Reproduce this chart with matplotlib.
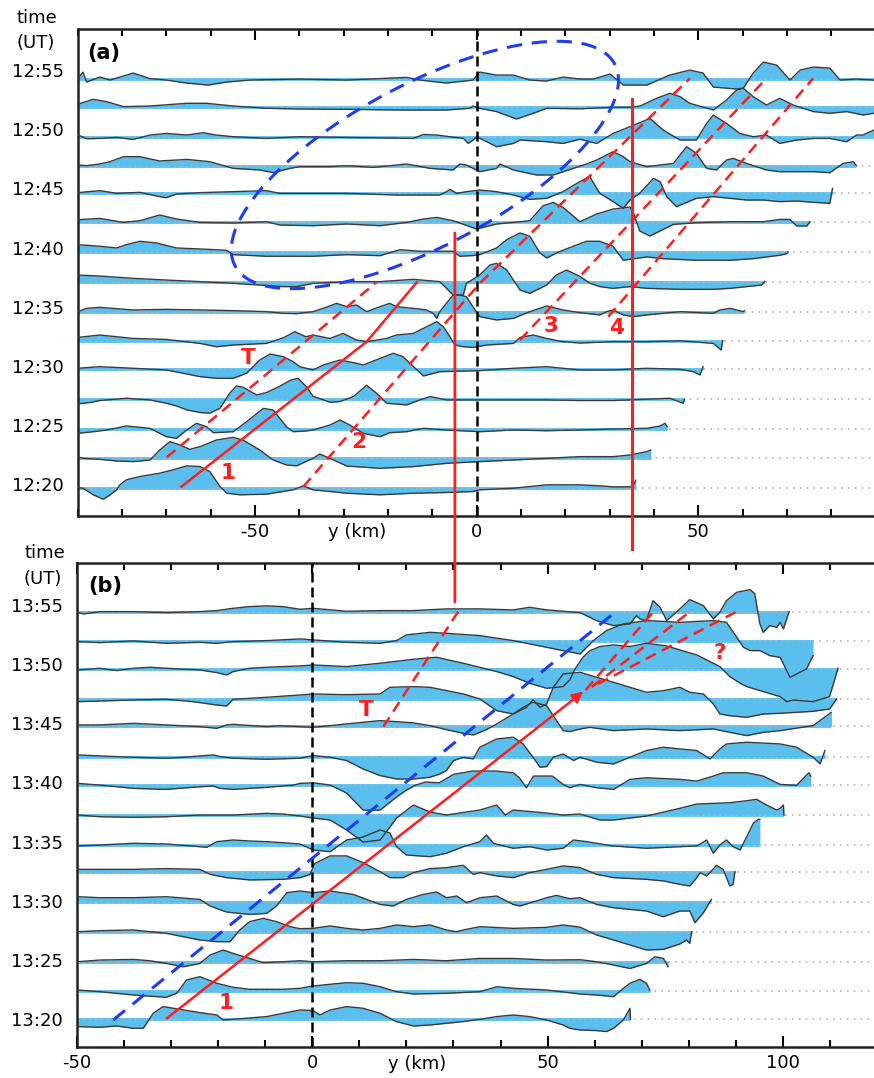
import numpy as np
import matplotlib
matplotlib.use('Agg')
import matplotlib.pyplot as plt
from matplotlib.ticker import MultipleLocator
from matplotlib.patches import ConnectionPatch
import matplotlib.transforms as mtransforms

plt.rcParams['font.family'] = ['DejaVu Sans']
plt.rcParams['axes.unicode_minus'] = False

# ---------------- data: panel (a) ----------------
# each row: (y in km, amplitude) pairs
a_1220 = [(-90,0),(-88.8,-0.7),(-86.5,-7.3),(-84.2,-11.7),(-82.7,-7.3),(-81.2,-2.3),(-80.5,2.7),(-79,7.7),(-76,11),(-71.5,14.3),(-68.5,17.7),(-65.4,21.7),(-62.4,21),(-60.2,16),(-57.9,1),(-56.4,-5.7),(-53.4,-7.3),(-47.4,-6.7),(-41.4,-2.3),(-39.1,1.7),(-36.9,-2.3),(-29.3,-5.7),(-21.8,-7.3),(-14.3,-5.7),(-6.8,-5),(-0.8,-4),(0.7,-2.3),(8.3,-0.7),(15.8,2.7),(23.3,2.7),(27.8,1.7),(30.8,0.7),(34.6,0.7),(35.3,1),(35.9,7.3)]
a_1222 = [(-90,1.7),(-88.8,0),(-85,-1),(-81.2,-2.7),(-77.5,-3.3),(-73.7,-1.7),(-71.5,8.3),(-69.2,16.7),(-66.9,13.3),(-64.7,9),(-62.4,11.7),(-58.7,18.3),(-54.9,21),(-52.7,18.3),(-48.9,8.3),(-45.9,-1.7),(-42.9,-6.7),(-40.6,-7.5),(-36.9,0),(-35.4,4.3),(-33.1,0),(-29.3,-7.7),(-21.8,-10),(-14.3,-8.3),(-6.8,-5),(0.7,-3.3),(8.3,-1.7),(15.8,0),(23.3,1.7),(30.8,1.7),(34.6,3.3),(38.4,6.7),(39.3,8.3)]
a_1225 = [(-90,-4.3),(-86.5,-2.7),(-83.5,-1),(-79,3),(-73.7,0.7),(-71.5,-4.3),(-70,-7.7),(-67.7,-9.3),(-65.4,-1),(-63.2,5.7),(-60.9,2.3),(-59.4,-3.7),(-54.9,-2.7),(-51.9,7.3),(-48.1,20.7),(-45.9,19),(-42.9,2.3),(-41.4,-2.7),(-38.5,-2),(-36.9,-1),(-33.1,4),(-30.8,9),(-28.6,4),(-25.6,-4.3),(-21.8,-7.7),(-19.6,-3.7),(-15.8,-2.7),(-12,0.7),(-6.8,-1),(0.7,-2.7),(8.3,-1),(15.8,-1.7),(23.3,-1),(30.8,0),(38.4,0.7),(41.4,3),(42.5,5.7),(43,2.3)]
a_1227 = [(-90,-4.7),(-87.3,-3.3),(-85,-1.3),(-79,1),(-73.7,-0.7),(-70,-4),(-67.7,-6.7),(-65.4,-10.7),(-62.4,-13.3),(-60.2,-14),(-57.9,-9),(-55.7,6),(-54.2,13.3),(-52.7,12),(-49.6,4.3),(-47.4,6.7),(-44.4,13),(-42,19),(-40.3,21),(-38.5,13),(-36.9,3),(-33.1,-3),(-30.8,-2.3),(-27.8,2.7),(-24.8,14),(-22.6,6),(-20.3,-4),(-15.8,-5.7),(-12.8,-0.7),(-10.5,2.7),(-6.8,-0.7),(0.7,-0.7),(15.8,-0.7),(23.3,-1.3),(30.8,-1.3),(38.4,0),(43.6,1),(46.6,-4),(46.9,0)]
a_1230 = [(-90,0.7),(-85,2.3),(-77.5,0.7),(-70,-1),(-66.2,-4.3),(-62.4,-7.7),(-58.7,-9.3),(-54.9,-9.3),(-51.9,-4.3),(-48.9,9),(-46.6,15),(-43.6,12.3),(-41.4,7.3),(-39.9,2.3),(-36.9,-1),(-34.6,4),(-30.8,9),(-27.1,5.7),(-25.6,4),(-18.8,15.7),(-16.6,12.3),(-12,-7),(-8.3,-2.7),(0.7,-1.7),(8.3,0.7),(15.8,2.3),(23.3,-1),(30.8,-1),(38.4,0.7),(45.9,-0.3),(48.9,-2.7),(50.4,-6),(51.1,2.3)]
a_1232 = [(-90,3.3),(-85,5.7),(-77.5,2.3),(-70,1.3),(-62.4,-2.7),(-58.7,-6),(-54.9,-4.3),(-47.4,-2.7),(-43.6,3),(-41,9),(-38.5,4),(-36.9,5.7),(-33.1,2.3),(-30.1,7.3),(-27.1,0.7),(-24.8,-1),(-20.3,2.3),(-18.1,5.7),(-14.3,7.3),(-11.3,14),(-9,19),(-7.5,14),(-6,4),(-4.9,-4.3),(-3,-6),(-0.8,-6.7),(2.3,-4.3),(8.3,-2.7),(9.8,3.3),(12.8,5.7),(15.8,2.3),(19.5,-1),(23.3,-2.3),(30.8,-1),(38.4,-1),(45.9,0),(53.4,-2.7),(55.2,-9.3),(55.5,0)]
a_1235 = [(-90,0),(-88,3.3),(-85,4.3),(-77.5,1.7),(-70,2.3),(-62.4,1.7),(-54.9,1),(-47.4,0),(-43.6,-1.7),(-40.6,-2),(-36.9,0),(-34.6,3.3),(-31.6,8.3),(-29.3,5),(-27.1,6.7),(-24.8,0),(-21.8,5),(-19.6,8.3),(-18.1,5),(-14.3,3.3),(-11.3,1.7),(-9.8,-1.7),(-9,-6.7),(-8.3,0),(-6.8,8.3),(-5.3,16.7),(-3.8,16.7),(-2.3,15),(-1.1,6.7),(0.7,-5),(4.5,-8.3),(8.3,-6.7),(12,0),(15.8,5.7),(19.5,1.7),(23.3,-1),(27.8,-3.3),(29.3,0),(30.8,1.7),(33.1,-3.3),(35.3,-5),(38.4,-3.3),(45.9,0),(53.4,-1.7),(54.9,1.7),(57.2,3.3),(60.2,0),(60.4,1)]
a_1237 = [(-90,7.3),(-85,6.3),(-77.5,4),(-70,2.3),(-62.4,0.7),(-54.9,-1),(-48.9,-2.7),(-43.6,-4.3),(-40.6,-4.3),(-36.9,-1),(-29.3,0.7),(-21.8,0.7),(-14.3,3),(-8.3,0.7),(-6.8,-6),(-5.3,-12.7),(-3,-12.7),(-2.3,-1),(0.7,7.3),(3,17.3),(4.5,19),(6.8,12.3),(9.8,-7.7),(12,-11),(15.8,-2.7),(18,7.3),(20.3,12.3),(23.3,6),(25.6,-1),(27.8,-4.3),(30.8,-6),(34.6,-4.3),(38.4,-6),(45.9,-7),(53.4,-7),(57.2,-6),(60.9,-4.3),(64.3,-2.7),(65,0.7)]
a_1240 = [(-90,7.3),(-85,5.7),(-81.2,4),(-79,7.3),(-76,10.7),(-72.2,9),(-67.7,4),(-62.4,3),(-56.4,1.7),(-54.9,-2.7),(-47.4,-4.3),(-39.9,-4.3),(-36.9,-4.3),(-29.3,-2.7),(-21.8,-3.7),(-17.3,2.3),(-12.8,0.7),(-9,0.7),(-5.3,0.7),(-3.8,-4.3),(-0.5,-3.5),(0.7,-2.7),(4.5,4),(6.8,12.3),(9.8,19),(12,15.7),(14.3,-1),(15.8,-6),(18.5,0),(21.8,5.7),(24.8,10.7),(27.8,10.7),(30.8,5.7),(33.1,-8.3),(38.4,-5),(42.1,-6.7),(49.6,-8.3),(57.2,-8.3),(62.4,-6.7),(68.4,-3.3),(70,-1.7),(70.3,0)]
a_1242 = [(-90,2),(-85,3.3),(-79.7,-0.7),(-76,1),(-71.5,6.7),(-67.7,2.7),(-62.4,-0.7),(-54.9,-1.3),(-47.4,0),(-44.4,-3.3),(-36.9,-4),(-29.3,-2.3),(-21.8,-4),(-15.8,-0.7),(-12,2.7),(-9,4.3),(-5.3,1),(0,-7.3),(4.5,-2.3),(8.3,-0.7),(12,1),(15,16),(17.3,19.3),(19.5,14.3),(23.3,0),(27.1,7.7),(30.8,12.7),(34.6,14.7),(35.3,10),(36.8,-9.3),(39.1,-14.3),(42.1,-7.7),(44.4,-2.7),(49.6,-1),(57.2,0),(64.7,0),(68.4,2.3),(70.7,2.3),(72.2,-4.3),(74.5,-4.3),(75.2,0)]
a_1245 = [(-90,0.7),(-85,2.7),(-81.2,0),(-76,1),(-71.5,-3.3),(-70,-4.3),(-67.7,-0.7),(-62.4,0.7),(-54.9,1.7),(-47.4,2.7),(-44.4,0),(-29.3,0),(-18.1,-1.7),(-8.3,-1.7),(-6.8,1.7),(-6,4),(-4.5,0),(-2.3,1.7),(0.7,3.3),(4.5,1.7),(8.3,-1.7),(12,-6),(15.8,-5),(19.5,1.7),(23.3,11.7),(25.5,17),(27.8,0),(30.8,-8.3),(33.1,-15),(34.6,-6.7),(36.8,0),(39.9,15),(41.4,11.7),(42.9,-3.3),(45.1,-13.3),(49.6,-5),(53.4,-3.3),(57.2,-5),(60.9,-6.7),(64.7,-6.7),(68.4,-8.3),(72.2,-7.7),(76,-9),(79.7,-10),(80.3,5)]
a_1247 = [(-90,0.7),(-88,0),(-85,1.7),(-82.7,4),(-79.7,9),(-76,9),(-71.5,4.7),(-65.4,6.3),(-60.2,4),(-54.9,-2.7),(-48.9,-4.3),(-45.9,-7),(-42.1,-2.7),(-39.9,-1),(-33.1,-1),(-29.3,0),(-23.3,-1.7),(-15.8,1.7),(-10.5,-2.7),(-5.3,-4.3),(-3.8,1.7),(-2.3,0.7),(-0.8,-2.7),(0.7,-6),(4.5,-2.7),(5.3,1.7),(8.3,-4.3),(13.5,-9.3),(17.3,-9.3),(21.8,-2.7),(25,2),(27.1,5.7),(30.8,14),(33.1,9),(34.6,4),(38.4,-1),(44.4,2.3),(47.4,19),(49.6,12.3),(51.9,-2.7),(54.1,-4.3),(56.4,5.7),(57.9,7.3),(60.9,2.3),(65.4,-4.3),(68.4,-6),(72.2,-6),(76,-6),(79.7,-7),(82.7,2.3),(85,4),(85.7,0)]
a_1250 = [(-90,2),(-88,-2),(-85,-1.7),(-81.2,-0.7),(-77.5,-2.7),(-73.7,1.7),(-70,3.3),(-65.4,1.7),(-61.7,4),(-58.7,1.7),(-54.9,0),(-47.4,-1.7),(-39.9,0),(-29.3,-0.7),(-14.3,-1.7),(-12,2.3),(-9,1.7),(-3,-1.7),(-1.9,-6.7),(-0.8,-3.3),(0,0),(2.3,-5),(4.5,-10),(8.3,-6.7),(9.8,-3.3),(15.8,-5),(19.5,-6.7),(23.3,-2.5),(27.1,-6.7),(30.8,3.3),(34.6,10),(39.1,18.3),(42.1,6.7),(45.9,-3.3),(49.6,-3.3),(51.9,13.3),(53.4,21.7),(56.4,13.3),(59.4,3.3),(62.4,0),(65.4,1.7),(68.4,-6.7),(72.2,-3.3),(76,-1.7),(79.7,-1.7),(83.5,-5),(85.7,1.7),(87.2,1.7),(89.6,6.7)]
a_1252 = [(-90,3),(-86.5,8),(-83.5,5.7),(-79.7,0.7),(-73.7,1.3),(-65.4,4),(-60.9,4),(-54.9,1.3),(-47.4,-1),(-39.9,-1.7),(-29.3,-2),(-18.1,-2.7),(-6.8,-2.7),(-1.5,-1),(-0.8,1.3),(0.7,-1),(4.5,-4.3),(9,-11.7),(12.8,-6),(15.8,-1),(23.3,-1.5),(30.8,0),(34.6,0),(36.9,1.3),(40.6,9),(43.6,14),(45.9,10.7),(48.1,4),(53.4,-2.7),(56.4,7.3),(58.7,17.3),(60.2,19),(62.4,10.7),(65.4,2.3),(68.4,9),(71.4,2.3),(76,-4.3),(79.7,-6),(83.5,-4.3),(87.2,-7.7),(89.6,-6)]
a_1255 = [(-90,0),(-88.8,7),(-88,-3),(-85,2),(-82.7,-1),(-77.5,6),(-73.7,0.5),(-70,-1),(-65.4,-4),(-60.6,-6),(-56.4,-3),(-51.2,-1),(-40,0),(-29.3,-1),(-15.8,1.7),(-12.8,-1),(-6.8,-4),(-0.8,-1),(0.7,7),(4.5,4),(8.3,4),(12,-1),(15.8,-2),(19.5,2),(23.3,0),(26.3,0),(30.1,5),(33.1,-6),(38.4,-6),(43.6,4),(48.1,9),(51.1,6),(53.4,-8),(58.7,-10),(60.2,-9),(62.4,6),(64.7,17),(67.7,14),(70.7,-1),(73,9),(76,12),(79.7,11),(82,-1),(85.7,0),(89.6,-1)]
a_rows = [a_1220, a_1222, a_1225, a_1227, a_1230, a_1232, a_1235, a_1237,
          a_1240, a_1242, a_1245, a_1247, a_1250, a_1252, a_1255]
a_times = [19.7, 22.17, 24.65, 27.17, 29.73, 32.12, 34.58, 37.06,
           39.63, 42.19, 44.59, 46.93, 49.38, 51.87, 54.26]   # minutes after 12:00
a_ticks = [20, 25, 30, 35, 40, 45, 50, 55]
a_labels = ['12:20', '12:25', '12:30', '12:35', '12:40', '12:45', '12:50', '12:55']

# ---------------- data: panel (b) ----------------
b_1320 = [(-49.85,-7.3),(-45.1,-8),(-41.6,-6.7),(-38,-9),(-35.9,-9),(-33.8,6),(-31.7,12.7),(-29.5,11),(-23.9,6.7),(-20.3,4.3),(-18.9,-0.7),(-16.8,0),(-9.7,2.7),(-2.6,9.3),(0.2,8.7),(1.6,4.3),(3.8,9.3),(7.3,12.7),(10.8,11),(14.4,6),(17.9,-2.3),(21.5,-6.7),(25,-5.7),(28.5,-4),(32.1,-2.3),(35.6,0),(39.2,2.7),(42.7,4.3),(46.2,2.7),(49.8,-0.7),(53.3,-5.7),(54.7,-9),(56.9,-10.7),(60.4,-11.3),(62.5,-12.3),(64,-9),(66.1,-0.7),(67.5,11),(67.6,0)]
b_1322 = [(-49.85,1),(-45.1,-0.7),(-38,-4),(-31,-6.3),(-28.8,-2.3),(-26.7,11),(-23.9,14.3),(-20.3,7.7),(-16.8,3.7),(-13.3,1.7),(-6.2,1.7),(-2.6,2.7),(0.2,5),(3.8,6.7),(7.3,8.3),(10.8,7.7),(14.4,4.3),(17.9,-0.7),(21.5,-3),(28.5,-2.3),(35.6,-0.7),(39.2,4.3),(42.7,2.7),(49.8,1),(56.9,-3),(60.4,-4),(64,-5.7),(66.1,2.7),(67.5,7.7),(69.6,11.7),(71,7.7),(71.7,1)]
b_1325 = [(-49.85,0),(-45.1,1.7),(-38,2.3),(-34.5,1),(-31,-1.7),(-27.4,-5),(-23.9,-1.7),(-21.7,6.7),(-18.9,11.7),(-16.8,8.3),(-13.3,3.3),(-10.4,-1),(-6.2,0),(-2.6,1),(0.2,0),(7.3,1),(14.4,1),(21.5,2.3),(28.5,1),(35.6,3.3),(42.7,3.3),(49.8,1.7),(56.9,2),(60.4,0),(64,-3.3),(67.5,-6.7),(71,-1.7),(72.8,5),(74.6,3.3),(75.6,-5)]
b_1327 = [(-49.85,0),(-45.1,1),(-38,1.7),(-31,-1.7),(-27.4,-5),(-23.9,-8.3),(-20.3,-10),(-17.5,-10),(-15.4,1.7),(-13.3,10),(-10.4,13.3),(-7.6,10),(-4.7,5),(-2.6,3),(0.2,3.3),(3.8,5.7),(7.3,3.3),(10.8,1.7),(14.4,3.3),(17.9,6.7),(21.5,5),(25,6.7),(28.5,1.7),(30.6,0),(32.1,1.7),(35.6,5),(42.7,3.3),(49.8,4.3),(53.3,6.7),(56.9,4.5),(60.4,-3.3),(64,-8.3),(67.5,-13.3),(71,-18.3),(74.6,-17.7),(78.1,-12.3),(79.5,-8.3),(80.2,-11.7),(80.6,0)]
b_1330 = [(-49.85,5),(-45.1,4),(-38,4),(-31,5),(-23.9,2.3),(-21.7,-4.3),(-18.2,-10.3),(-13.3,-12.7),(-9.7,-11.7),(-7.6,-4.3),(-5.4,9),(-2.6,10.7),(0.2,9),(3.8,10.7),(8.7,7.3),(14.4,-2.7),(17.2,-4.3),(20,2.3),(23.6,7.3),(26.4,9.7),(28.5,4),(30.7,5.7),(32.8,-1),(35.6,4),(39.2,5.7),(42.7,-2.7),(44.1,-4.3),(49.8,4),(51.9,6.3),(54.7,3),(56.9,4),(60.4,-2.7),(64,-6),(71,-9.3),(74.6,-15),(78.1,-9.3),(80.2,-9.3),(81.3,-21),(83.1,-11),(84.8,2.3)]
b_1332 = [(-49.85,2.3),(-45.1,2.3),(-38,2.3),(-31,3),(-23.9,2.3),(-21.7,-2.7),(-18.2,-6),(-13.3,-8.3),(-6.2,-7.7),(-2.6,-6),(-0.5,-3),(0.5,8),(3.8,15.7),(7.3,15.7),(10.8,9),(14.4,0),(16.5,-6),(19.3,-6),(21.5,-1),(25,3),(28.5,4),(32.1,6.3),(34.2,-2.7),(35.6,-1),(39.2,-4.3),(42.7,-6),(46.2,-1),(49.8,2.3),(53.3,5.7),(56.9,4),(60.4,-2.7),(64,-6),(71,-7.7),(74.6,-9.3),(78.1,-12.7),(80.2,-14.3),(81.7,-6),(82.4,-1),(83.8,-4.3),(85.9,6.3),(87.3,2.3),(88.7,-14.3),(89.4,-12.7),(89.8,0)]
b_1335 = [(-49.85,-1),(-45.1,0),(-38,1.7),(-31,1),(-23.9,-1.7),(-22.4,-2.3),(-20.3,3.3),(-16.8,5),(-13.3,4),(-9.7,3.3),(-6.2,2.3),(-2.6,1),(0.2,-5),(3.8,-6.7),(7.3,5),(10.8,8),(14.4,15),(16.5,12),(17.9,-1.7),(20,-10),(25,-11.7),(28.5,-8.3),(32.1,-1.7),(35.6,3.3),(37,10),(38.5,1.7),(42.7,-3.3),(46.2,-1.7),(49.8,-5),(53.3,-3.3),(55.5,5),(58.3,3.3),(60.4,1.7),(64,-1),(71,-3.3),(78.1,-1.7),(81.7,-1),(83.8,5),(85.2,-8.3),(86.6,0),(88,5),(89.4,-1.7),(90.9,-5),(92.3,8.3),(93.7,21.7),(94.8,25.7),(95.1,25.7)]
b_1337 = [(-49.85,0),(-45.1,-1.7),(-38,-2.3),(-31,-1.7),(-23.9,0),(-16.8,0),(-9.7,1.7),(-6.2,1),(-2.6,-1),(0.2,-3),(3.8,-5),(7.3,-15),(10.8,-27),(14.4,-25),(16.5,-12),(17.9,-3),(21.5,10),(25,3),(28.5,0),(35.6,5),(39.2,10),(41,0),(42.7,5),(49.8,2),(53.3,0),(56.9,1),(61.1,-5),(64,-5),(71,-1),(78.1,6.7),(81.7,11),(88.7,12.3),(92.3,14.3),(94.4,15.7),(96.5,10),(98.7,5),(99.4,6.7),(100.1,10),(100.2,0)]
b_1340 = [(-49.85,1.7),(-45.1,0),(-38,-3.3),(-31,-4.3),(-23.9,-1.7),(-21,-1),(-19.6,-3.3),(-16.8,-4.3),(-9.7,-2.3),(-4,0),(-2.6,1.7),(0.2,2.3),(3.8,0),(7.3,-8),(10.8,-25),(14.4,-25),(17.9,-12),(20,-5),(22,0),(24,3),(27,2.3),(30,10.7),(34,14),(39,14),(42.7,12.3),(44,7.3),(45.5,-2.7),(47,9),(51,9),(53.3,0.7),(54.7,-2.7),(56.9,0.7),(60.4,-2.7),(64,-4.3),(67.5,5.7),(71,7.3),(78.1,5.7),(81.7,4),(85.2,9),(87.3,12.3),(92.3,12.3),(95.8,9),(99.4,0.7),(102.9,-0.3),(105.5,12.3),(105.9,9)]
b_1342 = [(-49.85,2.3),(-45.1,1.3),(-38,0),(-31,-1),(-27.4,0),(-23.9,1.3),(-21,2.3),(-19.6,0.7),(-16.8,-1),(-9.7,-2),(-2.6,-1),(0.2,1.7),(3.8,0),(7.3,-3.3),(10.8,-11.7),(14.4,-18.3),(17.9,-21.7),(21.5,-21.7),(25,-20),(27.1,-16.7),(28.5,-13.3),(30,-3.3),(32.1,0),(34.2,-1.7),(35.6,10),(39.2,18.3),(42.7,20),(44.8,13.3),(46.9,0),(48.4,-10),(49.8,-9.3),(51.2,0),(53.3,3.3),(55.5,-3.3),(56.9,0),(60.4,-5),(64,-6.7),(67.5,0),(71,6.7),(74.6,10),(78.1,8.3),(81.7,6.7),(84.5,-1.7),(86.6,8.3),(88,13.3),(92.3,15),(99.4,13.3),(102.9,10),(106.4,0),(107.9,-6.7),(108.9,6.7)]
b_1345 = [(-49.85,0.7),(-45.1,0.7),(-38,2.3),(-31,0.7),(-23.9,-1),(-20.3,-2.7),(-18.2,0.7),(-16.8,1.3),(-9.7,-1),(-6.9,0),(0.2,-1.7),(7.3,1.7),(14.4,5),(17.9,4),(21.5,2.7),(25,0),(28.5,-4),(32.1,-7.7),(34.2,-9.3),(37,-4),(39.2,1.7),(42.7,11.7),(44.8,18.3),(46.9,23.3),(49.8,20),(51.9,5),(53.3,-5),(54.7,-6),(56.9,-3.3),(59,-1.7),(64,-5),(71,-3.3),(78.1,-5),(85.2,-3.3),(88.7,-6.7),(92.3,-10),(95.8,-6.7),(99.4,-5),(106.4,0),(109.3,10),(110.3,13.3)]
b_1347 = [(-49.85,-2.7),(-45.1,-2),(-38,-1),(-31,-0.3),(-25.3,-2.7),(-20.3,-6),(-18.2,-7),(-16.8,-0.3),(-9.7,1.7),(-2.6,4),(0.2,5),(7.3,4.3),(14.4,5),(16.5,11.7),(21.5,12.3),(25,11.7),(32.1,5),(35.6,0),(39.2,-11.7),(42.7,-15),(45.5,-8.3),(46.9,-1),(48.4,-8.3),(49.8,-5),(51.2,11.7),(53.3,25),(56.9,26.7),(60.4,21.7),(64,16.7),(67.5,11.7),(71,6.7),(74.6,8.3),(78.1,11.7),(80.2,6.7),(83.1,5),(85.2,-5),(86.6,-15),(88.7,-16.7),(92.3,-18.3),(95.8,-15),(99.4,-14.3),(106.4,-12.3),(109.9,-10),(111.4,0)]
b_1350 = [(-49.85,-0.7),(-45.1,1),(-41.6,-1.3),(-38,1),(-34.5,2),(-31,1),(-23.9,-0.7),(-20.3,-3.3),(-18.2,-5.7),(-16.8,-2.3),(-13.3,1),(-9.7,2),(-6.2,2.7),(-2.6,3.3),(0.2,4.3),(7.3,2.7),(14.4,6),(21.5,10),(26.4,12),(32.1,6),(39.2,-2.3),(42.7,-7.3),(46.2,-14),(49.8,-19),(53.3,-17.3),(54.7,-10.7),(55.8,0),(57.5,12),(59,18.5),(61.1,22.7),(64,24.3),(67.5,22.7),(71,26),(75.3,23.3),(78.1,19.3),(81.7,14.3),(83.8,9.3),(86.6,2.7),(88.7,-7.3),(90.9,-14),(92.3,-17.3),(95.8,-22.3),(99.4,-27.3),(100.8,-32.3),(102.2,-30.7),(106.4,-32.3),(109.9,-27.3),(111.7,1)]
b_1352 = [(-49.85,-1),(-45.1,-2),(-38,-0.3),(-31,-2.7),(-23.9,-1.7),(-20.3,-2.7),(-16.8,-1),(-9.7,0),(-2.6,1.7),(0.2,0.7),(7.3,-1.7),(14.4,-2.7),(17.9,0),(20,5.7),(25,8.3),(28.5,7.3),(35.6,5),(42.7,0),(49.8,-6.7),(56.9,-13.3),(59.7,0),(62.5,10),(66.1,16.7),(71,20),(78.1,18.3),(85.2,20),(88,18.3),(90.2,3.3),(91.6,-6.7),(93,-10),(95.1,-10),(97.2,-15),(99.4,-16.7),(100.8,-30),(101.5,-36.7),(102.9,-33.3),(105,-28.3),(106.4,-15)]
b_1355 = [(-49.85,-1),(-48.6,-2.3),(-45.1,0),(-38,0),(-31,-1),(-23.9,0),(-20.3,1),(-16.8,3.3),(-13.3,5),(-9.7,5.7),(-6.2,5),(-2.6,2.3),(0.2,3.3),(7.3,0.3),(14.4,1),(21.5,1),(28.5,2.7),(35.6,2.7),(42.7,1.7),(46.2,4.3),(49.8,1.7),(56.9,-1),(60.4,-9),(64,-14),(67.5,-12.3),(68.9,-4),(69.6,-7.3),(71,-9),(72.4,11),(73.9,4.3),(75.3,-9),(78.1,2.7),(80.2,12),(83.1,6),(85.2,-7.3),(86.6,-0.7),(88,11),(90.2,19.3),(93,22),(94,18),(95.1,-12.3),(95.8,-20.7),(97.2,-14),(98.7,-15.7),(99.4,-10.7),(100.1,-17.3),(101.3,0)]
b_rows = [b_1320, b_1322, b_1325, b_1327, b_1330, b_1332, b_1335, b_1337,
          b_1340, b_1342, b_1345, b_1347, b_1350, b_1352, b_1355]
b_times = [20.0, 22.39, 24.86, 27.40, 29.93, 32.47, 34.72, 37.25,
           39.78, 42.13, 44.80, 47.05, 49.56, 51.98, 54.43]   # minutes after 13:00
b_ticks = [20, 25, 30, 35, 40, 45, 50, 55]
b_labels = ['13:20', '13:25', '13:30', '13:35', '13:40', '13:45', '13:50', '13:55']

AMP = 1 / 11.83          # amplitude unit -> minutes of vertical offset

FILL = '#5bbfee'
TRACE = '#3a3a3a'
RED = '#ff1e1e'
BLUE = '#1f3cf5'

# ---------------- figure ----------------
W, H = 874, 1078
fig = plt.figure(figsize=(W / 100, H / 100), dpi=100)
axA = fig.add_axes([77.7 / W, 1 - 516 / H, 797.8 / W, 486.7 / H])
axB = fig.add_axes([76.9 / W, 1 - 1047 / H, 800.2 / W, 484.3 / H])

A_XLIM = (-90, 90); A_YLIM = (17.29, 58.47)
B_XLIM = (-50, 120); B_YLIM = (17.66, 58.56)


def draw_rows(ax, times, rows, xlim):
    for t, row in zip(times, rows):
        arr = np.array(row, dtype=float)
        xs, vs = arr[:, 0], arr[:, 1]
        ys = t + vs * AMP
        ax.plot(list(xlim), [t, t], color='#a8a8a8', lw=1.1, ls=(0, (1, 3.5)), zorder=1)
        ax.fill_between(xs, t, ys, color=FILL, lw=0, zorder=2, interpolate=True)
        ax.plot([xs[0], xs[-1]], [t, t], color=FILL, lw=2.0, solid_capstyle='butt', zorder=2)
        ax.plot([xs[0], xs[-1]], [t, t], color='#b8b8b8', lw=0.9, ls=(0, (1, 3.5)), zorder=2.2)
        ax.plot(xs, ys, color=TRACE, lw=1.0, zorder=3)


def style(ax, xlim, ylim, ticks, labels):
    ax.set_xlim(*xlim); ax.set_ylim(*ylim)
    ax.xaxis.set_major_locator(MultipleLocator(50))
    ax.xaxis.set_minor_locator(MultipleLocator(10))
    ax.tick_params(axis='x', which='both', direction='in', top=True, bottom=True,
                   width=1.5, labelsize=13, pad=5)
    ax.tick_params(axis='x', which='major', length=8)
    ax.tick_params(axis='x', which='minor', length=5)
    ax.set_yticks(ticks)
    ax.set_yticklabels(labels)
    ax.tick_params(axis='y', length=0, labelsize=13, pad=10)
    ax.spines['right'].set_visible(False)
    for s in ('left', 'top', 'bottom'):
        ax.spines[s].set_linewidth(1.8)
        ax.spines[s].set_color('#222222')


draw_rows(axA, a_times, a_rows, A_XLIM)
draw_rows(axB, b_times, b_rows, B_XLIM)
style(axA, A_XLIM, A_YLIM, a_ticks, a_labels)
style(axB, B_XLIM, B_YLIM, b_ticks, b_labels)

for ax in (axA, axB):
    ax.axvline(0, color='k', lw=1.8, ls=(0, (4, 2)), zorder=4)

RDASH = (0, (4.5, 2.7))
# ---- panel (a) annotations ----
axA.plot([-69.9, -22.6], [22.26, 37.06], color=RED, lw=1.8, ls=RDASH, zorder=5)          # T
axA.plot([-66.6, -24.8, -13.5], [19.77, 32.04, 37.06], color=RED, lw=1.8, zorder=5)      # 1
axA.plot([-39.1, 0.74, 48.1], [19.77, 36.98, 54.32], color=RED, lw=1.8, ls=RDASH, zorder=5)  # 2
axA.plot([9.77, 65.4], [32.18, 54.32], color=RED, lw=1.8, ls=RDASH, zorder=5)            # 3
axA.plot([29.7, 75.9], [34.15, 54.32], color=RED, lw=1.8, ls=RDASH, zorder=5)            # 4
axA.plot([35.1, 35.1], [52.57, 14.5], color=RED, lw=2.2, zorder=5, clip_on=False)

for txt, x, y in [('T', -51.5, 30.63), ('1', -56.0, 20.96), ('2', -26.7, 23.58),
                  ('3', 16.9, 33.37), ('4', 31.6, 33.17)]:
    axA.text(x, y, txt, color=RED, fontsize=15.5, fontweight='bold', ha='center', va='center', zorder=6)

# blue dashed ellipse (screen-space tilt)
kx = 797.8 / (A_XLIM[1] - A_XLIM[0])
ky = 486.7 / (A_YLIM[1] - A_YLIM[0])
tt = np.linspace(0, 2 * np.pi, 400)
th = np.deg2rad(28)
ea, eb = 215.0, 81.0
ex = -11.67 + (ea * np.cos(tt) * np.cos(th) - eb * np.sin(tt) * np.sin(th)) / kx
ey = 46.99 + (ea * np.cos(tt) * np.sin(th) + eb * np.sin(tt) * np.cos(th)) / ky
axA.plot(ex, ey, color=BLUE, lw=2.2, ls=(0, (5, 3.2)), zorder=5)

# ---- panel (b) annotations ----
axB.plot([-42.3, 64.7], [19.94, 54.49], color=BLUE, lw=2.2, ls=(0, (5, 3.2)), zorder=5)
axB.annotate('', xy=(57.6, 47.67), xytext=(-30.9, 20.08),
             arrowprops=dict(arrowstyle='-|>', color=RED, lw=1.8, mutation_scale=16,
                             shrinkA=0, shrinkB=0), zorder=6)
axB.plot([31.0, 15.1], [54.43, 44.71], color=RED, lw=1.8, ls=RDASH, zorder=5)
for (x0, y0, x1, y1) in [(58.1, 47.81, 72.8, 54.56), (59.4, 48.07, 80.7, 54.56), (60.7, 48.32, 90.8, 54.56)]:
    axB.plot([x0, x1], [y0, y1], color=RED, lw=1.8, ls=RDASH, zorder=5)
for txt, x, y in [('T', 11.5, 46.1), ('1', -18.3, 21.35), ('?', 86.6, 50.91)]:
    axB.text(x, y, txt, color=RED, fontsize=15.5, fontweight='bold', ha='center', va='center', zorder=6)

# red vertical line crossing both panels
con = ConnectionPatch(xyA=(-4.9, 41.24), coordsA=axA.transData,
                      xyB=(30.3, 55.24), coordsB=axB.transData,
                      color=RED, lw=2.0, zorder=10)
fig.add_artist(con)

# panel letters and axis labels
fig.text(104 / W, 1 - 53 / H, '(a)', fontsize=15, fontweight='bold', ha='center', va='center')
fig.text(105 / W, 1 - 586 / H, '(b)', fontsize=15, fontweight='bold', ha='center', va='center')
fig.text(37 / W, 1 - 18 / H, 'time', fontsize=13, ha='center', va='center')
fig.text(36 / W, 1 - 43 / H, '(UT)', fontsize=13, ha='center', va='center')
fig.text(45 / W, 1 - 553 / H, 'time', fontsize=13, ha='center', va='center')
fig.text(43 / W, 1 - 579 / H, '(UT)', fontsize=13, ha='center', va='center')

trA = mtransforms.blended_transform_factory(axA.transData, axA.transAxes)
trB = mtransforms.blended_transform_factory(axB.transData, axB.transAxes)
axA.text(-27.0, -0.0329, 'y (km)', transform=trA, fontsize=13, ha='center', va='center')
axB.text(22.2, -0.0351, 'y (km)', transform=trB, fontsize=13, ha='center', va='center')

fig.savefig('out.png', dpi=100)
